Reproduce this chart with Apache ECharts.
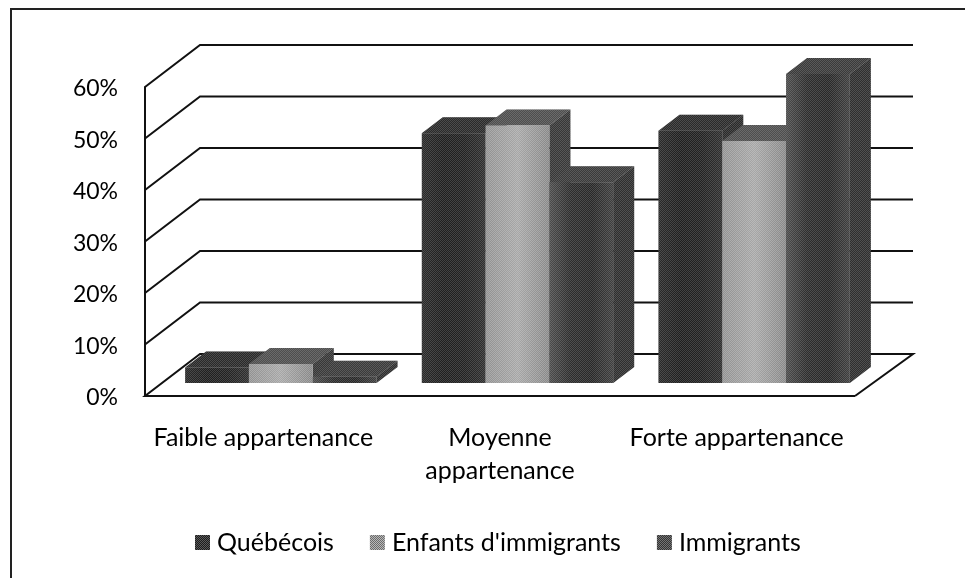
<!DOCTYPE html>
<html>
<head>
<meta charset="utf-8">
<style>html,body{margin:0;padding:0;background:#fff}#c{width:965px;height:578px}</style>
<script src="https://cdn.jsdelivr.net/npm/echarts@6/dist/echarts.min.js"></script>
</head>
<body>
<div id="c"></div>
<script>
var categories = ['Faible appartenance', 'Moyenne\nappartenance', 'Forte appartenance'];
var quebecois = [3, 48.5, 49];
var enfants = [3.7, 50, 47];
var immigrants = [1.2, 39, 60];
var seriesNames = ['Québécois', "Enfants d'immigrants", 'Immigrants'];
var ticks = [0, 10, 20, 30, 40, 50, 60];

var FONT = 'Lato';
var INK = '#000';
// oblique projection of the 3D chart, in pixels
var WALL = [55, -42];     // front of floor to back wall
var BAR_SHIFT = [17.5, -13]; // front of floor to front of bars
var BAR_DEPTH = [21, -16];
var BAR_RATIO = 0.2695;

function grad(x0, y0, x1, y1, stops) {
  return { type: 'linear', x: x0, y: y0, x2: x1, y2: y1,
    colorStops: stops.map(function (c, i) { return { offset: i / (stops.length - 1), color: c }; }) };
}
// two-pixel halftone screen, like the scanned print
function screen(a, b) {
  var c = document.createElement('canvas');
  c.width = 2; c.height = 2;
  var g = c.getContext('2d');
  g.fillStyle = a; g.fillRect(0, 0, 2, 2);
  g.fillStyle = b; g.fillRect(0, 0, 1, 1); g.fillRect(1, 1, 1, 1);
  return { image: c, repeat: 'repeat' };
}
var grain = screen('rgba(0,0,0,0.28)', 'rgba(255,255,255,0.16)');
var lightGrain = screen('rgba(0,0,0,0.2)', 'rgba(255,255,255,0.22)');
var faces = [
  { front: grad(0, 0, 1, 0, ['#3a3a3a', '#2a2a2a', '#2e2e2e', '#424242']), top: '#3a3a3a', side: '#3a3a3a', grain: grain },
  { front: grad(0, 0, 1, 0, ['#b4b4b4', '#d0d0d0', '#a8a8a8']), top: '#6c6c6c', side: '#4c4c4c', grain: lightGrain },
  { front: grad(0, 0, 1, 0, ['#6a6a6a', '#3e3e3e', '#363636', '#585858']), top: '#505050', side: '#404040', grain: grain }
];
var legendFill = [screen('#1c1c1c', '#5a5a5a'), screen('#5f5f5f', '#c4c4c4'), screen('#2c2c2c', '#7c7c7c')];

function barSeries(name, values, idx) {
  return {
    type: 'custom', name: name, coordinateSystem: 'cartesian2d', clip: false, z: 3 + idx,
    itemStyle: { color: legendFill[idx] },
    data: values.map(function (v, i) { return [i, v]; }),
    encode: { x: 0, y: 1 },
    renderItem: function (params, api) {
      var base = api.coord([api.value(0), 0]);
      var top = api.coord([api.value(0), api.value(1)]);
      var bw = api.size([1, 0])[0] * BAR_RATIO;
      var x0 = base[0] + (idx - 1.5) * bw + BAR_SHIFT[0];
      var x1 = x0 + bw;
      var y0 = base[1] + BAR_SHIFT[1];
      var y1 = top[1] + BAR_SHIFT[1];
      var dx = BAR_DEPTH[0], dy = BAR_DEPTH[1];
      var f = faces[idx];
      var side = [[x1, y0], [x1 + dx, y0 + dy], [x1 + dx, y1 + dy], [x1, y1]];
      var lid = [[x0, y1], [x0 + dx, y1 + dy], [x1 + dx, y1 + dy], [x1, y1]];
      var front = { x: x0, y: y1, width: bw, height: y0 - y1 };
      return {
        type: 'group',
        children: [
          { type: 'polygon', shape: { points: side }, style: { fill: f.side } },
          { type: 'polygon', shape: { points: side }, style: { fill: grain } },
          { type: 'polygon', shape: { points: lid }, style: { fill: f.top } },
          { type: 'polygon', shape: { points: lid }, style: { fill: grain } },
          { type: 'rect', shape: front, style: { fill: f.front } },
          { type: 'rect', shape: front, style: { fill: f.grain } }
        ]
      };
    }
  };
}

var wallSeries = {
  type: 'custom', name: 'wall', coordinateSystem: 'cartesian2d', clip: false, z: 1, silent: true,
  data: ticks.map(function (t) { return [0, t]; }),
  encode: { x: 0, y: 1 },
  renderItem: function (params, api) {
    var p = api.coord([0, api.value(1)]);
    var cs = params.coordSys;
    var xl = cs.x, xr = cs.x + cs.width;
    var pts = [[xl, p[1]], [xl + WALL[0], p[1] + WALL[1]], [xr + WALL[0] + 3, p[1] + WALL[1]]];
    if (api.value(1) === 0) {
      pts = [[xr, p[1]], [xr + WALL[0] + 3, p[1] + WALL[1]], [xl + WALL[0], p[1] + WALL[1]], [xl, p[1]], [xr, p[1]]];
    }
    return { type: 'polyline', shape: { points: pts }, style: { fill: null, stroke: '#111', lineWidth: 2 } };
  }
};

var chart = echarts.init(document.getElementById('c'), null, { renderer: 'canvas' });
chart.setOption({
  animation: false,
  backgroundColor: '#fff',
  textStyle: { fontFamily: FONT },
  graphic: [{
    type: 'polyline', silent: true, z: 0,
    shape: { points: [[11, 590], [11, 9], [970, 9]] },
    style: { fill: null, stroke: '#222', lineWidth: 2 }
  }],
  grid: { left: 145, right: 110, top: 87, bottom: 182 },
  xAxis: {
    type: 'category', data: categories,
    axisLine: { show: false }, axisTick: { show: false },
    axisLabel: { color: INK, fontFamily: FONT, fontSize: 25, lineHeight: 33, margin: 25, interval: 0 }
  },
  yAxis: {
    type: 'value', min: 0, max: 60, interval: 10,
    splitLine: { show: false },
    axisTick: { show: false },
    axisLine: { show: true, lineStyle: { color: '#111', width: 2 } },
    axisLabel: {
      color: INK, fontFamily: FONT, fontSize: 23, margin: 27,
      formatter: '{a|{value}%}',
      rich: { a: { color: INK, fontFamily: FONT, fontSize: 23, padding: [4, 0, 0, 0] } }
    }
  },
  legend: {
    left: 195, top: 530, padding: 0, itemWidth: 15, itemHeight: 15, itemGap: 36,
    data: seriesNames, icon: 'rect',
    textStyle: { color: INK, fontFamily: FONT, fontSize: 25, padding: [0, 0, 0, 2] }
  },
  series: [wallSeries,
    barSeries(seriesNames[0], quebecois, 0),
    barSeries(seriesNames[1], enfants, 1),
    barSeries(seriesNames[2], immigrants, 2)]
});
</script>
</body>
</html>
